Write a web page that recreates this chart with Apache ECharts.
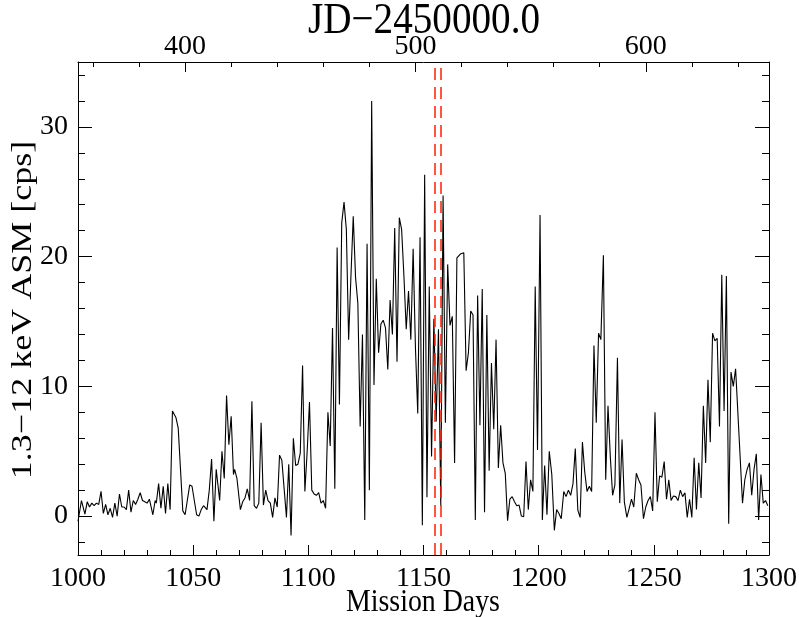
<!DOCTYPE html>
<html>
<head>
<meta charset="utf-8">
<script src="https://cdn.jsdelivr.net/npm/echarts@6/dist/echarts.min.js"></script>
<style>
html,body{margin:0;padding:0;background:#fff;}
#chart{width:799px;height:617px;}
</style>
</head>
<body>
<div id="chart"></div>
<script>
// Mission day of each bin
var days = [
1000.0,1001.5,1003.0,1004.0,1005.0,1006.0,1007.0,1008.0,1009.0,1010.0,
1011.0,1012.0,1013.0,1014.0,1015.0,1016.0,1017.0,1018.0,1019.0,1020.0,
1021.0,1022.0,1023.0,1024.0,1025.0,1026.0,1027.0,1028.0,1029.0,1030.0,
1031.0,1032.5,1033.5,1034.0,1035.0,1036.0,1037.0,1038.0,1039.0,1040.0,
1041.0,1042.5,1043.5,1045.5,1046.5,1047.0,1048.5,1049.5,1050.5,1051.5,
1052.5,1053.5,1054.5,1056.0,1057.0,1058.0,1059.0,1060.0,1061.5,1062.5,
1063.5,1064.5,1065.5,1066.5,1067.5,1068.0,1069.0,1070.5,1071.5,1072.5,
1073.5,1074.5,1075.5,1076.5,1077.5,1078.5,1079.5,1080.5,1081.5,1082.5,
1083.5,1084.5,1085.5,1086.5,1087.5,1088.5,1089.5,1090.5,1091.5,1092.5,
1093.5,1094.5,1095.5,1096.5,1097.5,1098.5,1099.5,1100.5,1101.5,1102.5,
1103.5,1104.5,1105.5,1106.5,1107.5,1108.5,1109.5,1110.5,1111.5,1112.5,
1113.5,1114.5,1115.5,1116.5,1117.5,1118.5,1119.5,1120.5,1121.5,1122.5,
1123.5,1124.5,1125.5,1126.5,1127.5,1128.5,1129.5,1130.5,1131.5,1132.5,
1133.5,1134.5,1135.5,1136.5,1137.5,1138.5,1139.5,1140.5,1141.5,1142.5,
1143.5,1144.5,1145.5,1146.5,1147.5,1148.5,1149.5,1150.5,1151.5,1152.5,
1153.5,1154.5,1155.5,1156.5,1157.5,1158.5,1159.5,1160.5,1161.5,1162.5,
1163.5,1164.5,1166.0,1167.5,1168.5,1169.5,1170.5,1171.5,1172.5,1173.5,
1174.5,1175.5,1176.5,1177.5,1178.5,1179.5,1180.5,1181.5,1182.5,1183.5,
1184.5,1185.5,1186.5,1187.5,1188.5,1189.5,1190.5,1191.5,1192.5,1193.5,
1194.5,1195.5,1196.5,1197.5,1198.5,1199.5,1200.6,1201.6,1202.6,1203.6,
1204.6,1205.7,1206.8,1207.8,1208.8,1209.8,1210.9,1211.9,1212.9,1213.9,
1214.9,1215.9,1217.0,1218.0,1219.0,1220.0,1221.0,1222.0,1223.0,1224.0,
1225.0,1226.0,1227.0,1228.1,1229.1,1230.1,1231.1,1232.1,1233.1,1234.2,
1235.2,1236.2,1237.2,1238.3,1239.3,1240.3,1241.3,1242.4,1243.4,1244.4,
1245.5,1246.5,1247.5,1248.5,1249.5,1250.5,1251.5,1252.5,1253.5,1254.5,
1255.5,1256.5,1257.5,1258.5,1259.5,1260.5,1261.5,1262.5,1263.5,1264.5,
1265.5,1266.5,1267.5,1268.5,1269.5,1270.5,1271.5,1272.5,1273.5,1274.5,
1275.5,1276.5,1277.5,1278.5,1279.5,1280.5,1281.5,1282.5,1283.5,1284.5,
1285.5,1288.5,1289.5,1290.5,1291.5,1292.5,1293.5,1294.5,1295.5,1296.5,
1297.5,1298.5,1299.5
];
// 1.3-12 keV ASM count rate [cps]
var cps = [
-0.4,1.2,0.15,1.1,0.7,1.0,0.8,1.0,0.9,1.9,
0.2,0.9,0.1,0.6,-0.1,1.0,0.0,1.7,0.7,0.7,
0.5,2.0,0.3,1.2,0.9,1.3,1.8,1.2,1.1,1.0,
1.3,0.1,1.2,1.0,2.5,0.6,2.3,0.2,2.5,0.5,
8.1,7.6,6.8,0.4,0.1,0.0,2.4,2.3,1.2,0.1,
0.0,0.5,0.8,0.5,2.0,4.4,-0.4,3.6,1.2,5.0,
2.9,9.3,5.5,7.7,3.2,3.6,2.9,0.5,1.1,1.4,
2.1,1.2,8.85,0.8,0.6,1.0,7.2,0.85,2.0,1.2,
1.0,-0.1,1.4,0.7,4.7,4.3,2.1,-0.1,4.0,-1.5,
6.0,3.9,4.0,4.85,11.6,1.9,5.0,8.8,2.0,1.7,
1.6,1.8,1.0,1.2,0.6,8.0,5.4,14.5,2.1,20.7,
8.6,22.6,24.2,22.1,13.6,18.5,23.1,18.4,16.4,6.9,
14.0,-0.3,21.0,2.0,32.0,10.1,18.3,12.6,14.8,15.1,
14.5,11.3,16.65,14.0,22.2,11.9,23.0,22.1,18.5,14.4,
17.35,13.6,20.6,13.0,7.9,21.5,-0.7,26.3,1.45,17.7,
4.6,15.2,7.3,14.4,0.8,24.7,7.2,19.4,14.7,15.4,
4.1,19.9,20.2,20.3,11.2,12.6,15.8,15.5,-0.3,17.0,
7.0,17.5,0.3,15.5,3.5,11.8,6.7,13.6,3.7,7.0,
4.1,3.3,-0.35,1.3,1.5,1.1,0.8,0.85,0.0,-0.05,
4.2,0.5,2.8,1.9,17.7,5.1,23.2,-0.3,3.9,0.1,
5.0,3.2,-1.1,0.5,0.2,-0.2,1.9,1.5,2.0,1.6,
2.5,5.2,0.46,-0.1,5.7,3.4,1.9,2.3,1.9,13.15,
7.2,14.1,13.6,20.1,2.8,8.5,4.6,1.6,2.4,12.2,
1.0,5.9,1.1,-0.1,0.6,1.3,0.7,3.3,2.8,2.4,
-0.2,0.7,1.2,1.5,0.4,8.0,1.1,3.1,3.0,4.2,
1.3,2.8,1.2,1.55,1.5,1.2,2.0,1.5,1.8,-0.1,
1.3,-0.1,4.5,0.5,4.1,1.4,8.5,4.1,10.5,5.7,
14.1,13.5,13.7,6.9,18.6,8.1,18.5,-0.6,11.1,10.0,
11.35,1.0,2.8,3.6,4.1,1.6,3.6,4.8,-0.3,3.2,
1.0,1.2,0.8
];
// red dashed markers (mission days)
var markerDays = [1154.8, 1157.7];
// axis ranges / ticks
var xRange = [1000, 1300];
var yRange = [-3, 35];
var yMajorTicks = [0, 10, 20, 30];
var yMinorTicks = [-2,2,4,6,8,12,14,16,18,22,24,26,28,32,34];
var jdOffset = 646.5; // JD-2450000 = mission day - 646.5
var jdMajorTicks = [400, 500, 600];
var jdMinorTicks = [360,380,420,440,460,480,520,540,560,580,620,640];
// titles
var topTitle = 'JD\u22122450000.0';
var xTitle = 'Mission Days';
var yTitle = '1.3\u221212 keV ASM [cps]';

var FONT = '"Liberation Serif","DejaVu Serif",serif';
var chart = echarts.init(document.getElementById('chart'), null, {renderer: 'canvas'});

function plain(v) { return String(v); }

function yAx(pos, ticks, len, labels, showLine) {
  return {
    type: 'value', position: pos, min: yRange[0], max: yRange[1],
    axisLine: {show: showLine, onZero: false, lineStyle: {color: '#000', width: 1}},
    axisTick: {show: true, inside: true, length: len, customValues: ticks, lineStyle: {color: '#000', width: 1}},
    axisLabel: labels ? {show: true, customValues: yMajorTicks, formatter: plain, color: '#000', fontFamily: FONT, fontSize: 28, margin: 10} : {show: false},
    splitLine: {show: false}
  };
}

function titleText(txt, x, y, size, squeeze, rot) {
  var el = {
    type: 'text', x: x, y: y, silent: true,
    style: {text: txt, fill: '#000', fontFamily: FONT, fontSize: size,
            align: 'center', verticalAlign: 'middle', textAlign: 'center', textVerticalAlign: 'middle'}
  };
  if (rot) { el.rotation = Math.PI / 2; el.scaleY = squeeze; } else { el.scaleX = squeeze; }
  return el;
}

var option = {
  animation: false,
  backgroundColor: '#fff',
  grid: {left: 78, right: 30, top: 62, bottom: 62, containLabel: false, outerBoundsMode: 'none'},
  graphic: [
    titleText(topTitle, 424, 21, 44, 0.89, false),
    titleText(xTitle, 423, 603, 32, 0.87, false),
    titleText(yTitle, 23, 310, 36, 0.8, true)
  ],
  xAxis: [
    {
      type: 'value', position: 'bottom', min: xRange[0], max: xRange[1], interval: 50,
      axisLine: {show: true, onZero: false, lineStyle: {color: '#000', width: 1}},
      axisTick: {show: true, inside: true, length: 10, lineStyle: {color: '#000', width: 1}},
      minorTick: {show: true, splitNumber: 5, length: 5, lineStyle: {color: '#000', width: 1}},
      axisLabel: {color: '#000', fontFamily: FONT, fontSize: 28, margin: 10, formatter: plain},
      splitLine: {show: false}, minorSplitLine: {show: false}
    },
    {
      type: 'value', position: 'top', min: xRange[0] - jdOffset, max: xRange[1] - jdOffset,
      axisLine: {show: true, onZero: false, lineStyle: {color: '#000', width: 1}},
      axisTick: {show: true, inside: true, length: 10, customValues: jdMajorTicks, lineStyle: {color: '#000', width: 1}},
      axisLabel: {show: true, customValues: jdMajorTicks, formatter: plain, color: '#000', fontFamily: FONT, fontSize: 28, margin: 1},
      splitLine: {show: false}
    },
    {
      type: 'value', position: 'top', min: xRange[0] - jdOffset, max: xRange[1] - jdOffset,
      axisLine: {show: false, onZero: false},
      axisTick: {show: true, inside: true, length: 5, customValues: jdMinorTicks, lineStyle: {color: '#000', width: 1}},
      axisLabel: {show: false},
      splitLine: {show: false}
    }
  ],
  yAxis: [
    yAx('left', yMajorTicks, 14, true, true),
    yAx('left', yMinorTicks, 7, false, false),
    yAx('right', yMajorTicks, 14, false, true),
    yAx('right', yMinorTicks, 7, false, false)
  ],
  series: [{
    type: 'line',
    xAxisIndex: 0, yAxisIndex: 0,
    data: days.map(function (d, i) { return [d, cps[i]]; }),
    showSymbol: false, symbol: 'none',
    lineStyle: {color: '#000', width: 1.1},
    markLine: {
      silent: true, symbol: ['none', 'none'],
      label: {show: false},
      lineStyle: {color: '#ff2000', type: [12, 7], width: 1.5},
      data: markerDays.map(function (d) { return {xAxis: d}; })
    }
  }]
};
chart.setOption(option);
</script>
</body>
</html>
